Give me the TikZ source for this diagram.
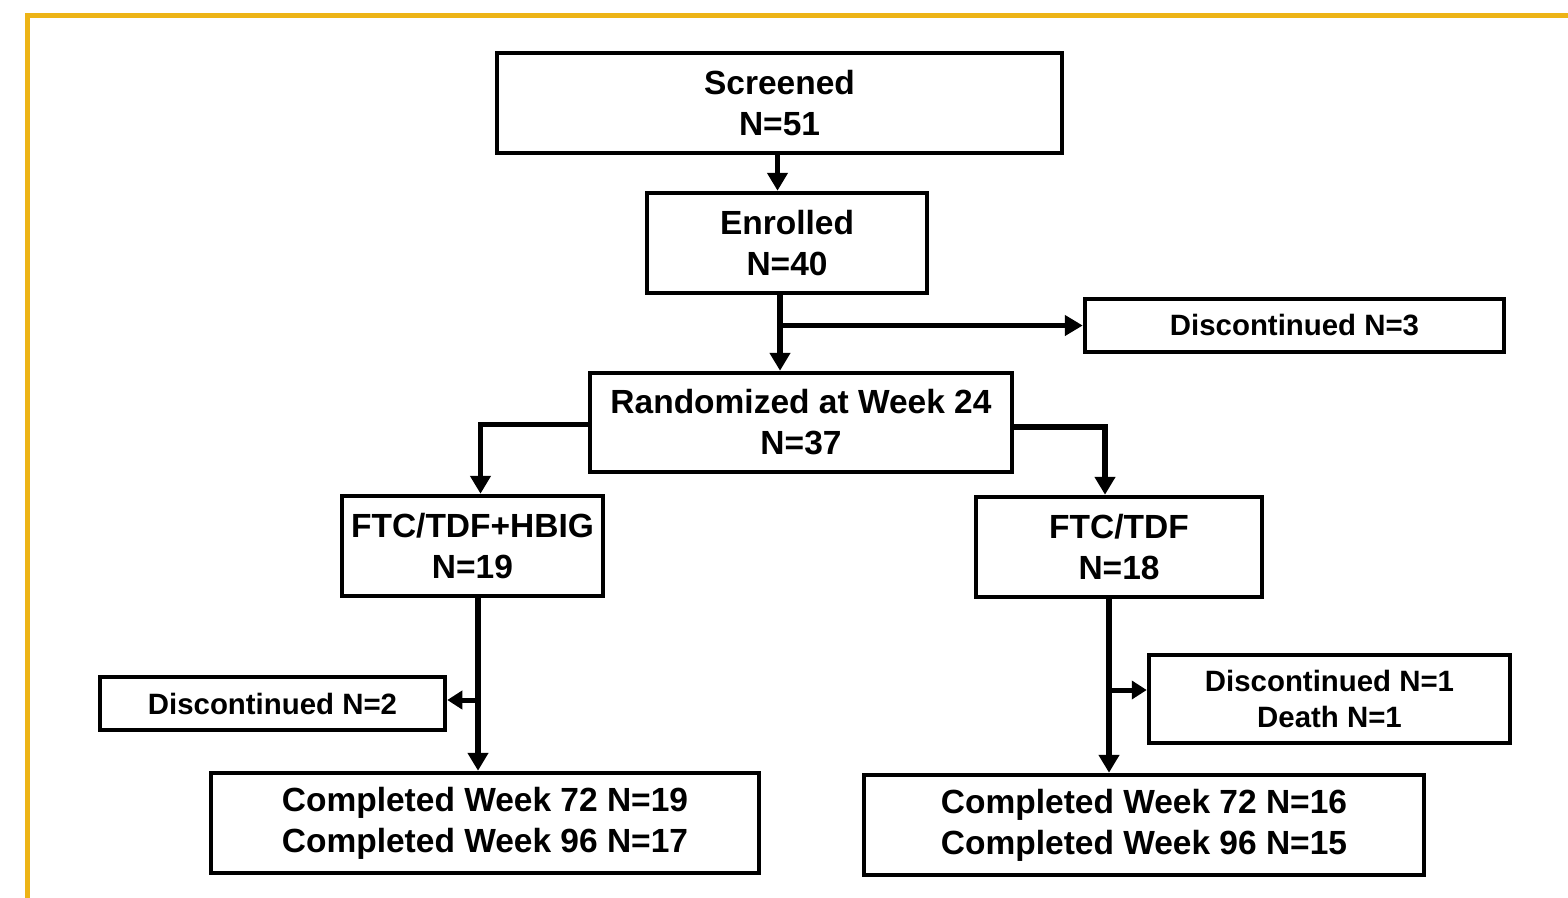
\documentclass[tikz,border=0pt]{standalone}
\usepackage{fontspec}
\setmainfont{Liberation Sans}
\usetikzlibrary{arrows.meta}
\definecolor{goldline}{RGB}{237,180,22}
\tikzset{
  box/.style={draw, line width=4.5pt, align=center, inner sep=0pt, font=\bfseries\fontsize{33.5}{41}\selectfont},
  smallbox/.style={box, font=\bfseries\fontsize{29.4}{36}\selectfont},
  arr/.style={line width=5.5pt, -{Triangle[length=18pt,width=20pt]}},
  sarr/.style={line width=5pt, -{Triangle[length=15pt,width=18pt]}}
}
\begin{document}
\begin{tikzpicture}[x=1pt,y=-1pt]
\useasboundingbox (0,0) rectangle (1568,897);
\fill[white] (0,0) rectangle (1568,897);
\draw[goldline, line width=5pt] (27.5,910) -- (27.5,15.5) -- (1580,15.5);

\node[box, minimum width=565pt, minimum height=100pt] (screened) at (779.5,103) {Screened\\N=51};
\node[box, minimum width=280pt, minimum height=100pt] (enrolled) at (787,243) {Enrolled\\N=40};
\node[smallbox, minimum width=419pt, minimum height=53pt] (disc3) at (1294.5,325.5) {Discontinued N=3};
\node[box, minimum width=422pt, minimum height=99pt] (random) at (801,422.5) {Randomized at Week 24\\N=37};
\node[box, minimum width=261pt, minimum height=100pt] (hbig) at (472.5,546) {FTC/TDF+HBIG\\N=19};
\node[box, minimum width=286pt, minimum height=100pt] (ftc) at (1119,547) {FTC/TDF\\N=18};
\node[smallbox, minimum width=345pt, minimum height=53pt] (disc2) at (272.5,703.5) {Discontinued N=2};
\node[smallbox, minimum width=361pt, minimum height=88pt] (disc1) at (1329.5,699) {Discontinued N=1\\Death N=1};
\node[box, minimum width=548pt, minimum height=100pt] (compl) at (485,823) {Completed Week 72 N=19\\Completed Week 96 N=17};
\node[box, minimum width=560pt, minimum height=100pt] (compr) at (1144,825) {Completed Week 72 N=16\\Completed Week 96 N=15};

\draw[arr] ([xshift=-2pt]screened.south) -- ([xshift=-2pt]screened.south |- enrolled.north);
\draw[arr] ([xshift=-7pt]enrolled.south) -- ([xshift=-7pt]enrolled.south |- random.north);
\draw[arr] ([xshift=-7pt]enrolled.south |- disc3.west) -- (disc3.west);
\draw[arr] ([yshift=-2pt]random.west) -| ([xshift=8pt]hbig.north);
\draw[arr] ([yshift=-4.5pt]random.east) -| ([xshift=-14pt]ftc.north);
\draw[arr] ([xshift=5.5pt]hbig.south) -- ([xshift=5.5pt]hbig.south |- compl.north);
\draw[sarr] ([xshift=5.5pt,yshift=3.5pt]hbig.south |- disc2.east) -- ([yshift=3.5pt]disc2.east);
\draw[arr] ([xshift=-10pt]ftc.south) -- ([xshift=-10pt]ftc.south |- compr.north);
\draw[sarr] ([xshift=-10pt,yshift=9pt]ftc.south |- disc1.west) -- ([yshift=9pt]disc1.west);
\end{tikzpicture}
\end{document}
